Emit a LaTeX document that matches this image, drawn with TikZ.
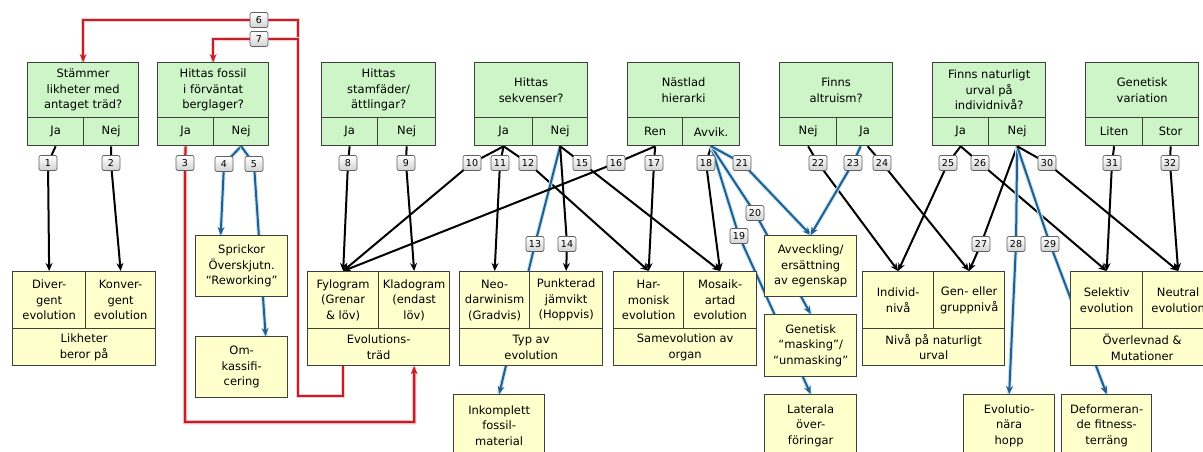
\documentclass[tikz,border=0pt]{standalone}
\usepackage{fontspec}
\setmainfont{DejaVu Sans}
\usetikzlibrary{arrows.meta}
\definecolor{qgreen}{RGB}{206,245,200}
\definecolor{ayellow}{RGB}{255,255,204}
\definecolor{bord}{RGB}{60,66,58}
\definecolor{lred}{RGB}{195,30,42}
\definecolor{hred}{RGB}{248,205,205}
\definecolor{lblue}{RGB}{35,95,140}
\definecolor{hblue}{RGB}{195,228,246}
\newcommand\boxfont{\fontsize{11.5}{15.5}\selectfont}
\newcommand\lblfont{\fontsize{9.5}{11}\selectfont}
\pgfdeclarelayer{bg}
\pgfdeclarelayer{paper}
\pgfsetlayers{paper,bg,main}
\tikzset{
  cell/.style={draw=bord, line width=1.3pt, anchor=north west, inner sep=0pt, align=center, font=\boxfont},
  gcell/.style={cell, fill=qgreen},
  ycell/.style={cell, fill=ayellow},
  lbl/.style={draw=gray!75!black, line width=0.7pt, rounded corners=2pt, top color=white, bottom color=gray!35, inner sep=1pt, minimum width=18, minimum height=15, font=\lblfont},
  conn/.style={line width=2pt, draw=black, -{Stealth[length=8pt,width=7pt]}},
  bconn/.style={conn, draw=lblue, preaction={draw=hblue, line width=4pt, -}},
  rconn/.style={conn, draw=lred, line width=2.2pt, preaction={draw=hred, line width=4.5pt, -}},
}
\begin{document}
\begin{tikzpicture}[x=1pt,y=-1pt]
\begin{pgfonlayer}{paper}
\fill[white] (0,0) rectangle (1203,452);
\end{pgfonlayer}
\useasboundingbox (0,0) rectangle (1203,452);

% ---------- top question boxes ----------
\node[gcell, minimum width=111, minimum height=55] (q1) at (27,62) {Stämmer\\likheter med\\antaget träd?};
\node[gcell, minimum width=56, minimum height=28] (q1a) at (27,117) {Ja};
\node[gcell, minimum width=55, minimum height=28] (q1b) at (83,117) {Nej};

\node[gcell, minimum width=111, minimum height=55] (q2) at (157,62) {Hittas fossil\\i förväntat\\berglager?};
\node[gcell, minimum width=56, minimum height=28] (q2a) at (157,117) {Ja};
\node[gcell, minimum width=55, minimum height=28] (q2b) at (213,117) {Nej};

\node[gcell, minimum width=114, minimum height=55] (q3) at (321,62) {Hittas\\stamfäder/\\ättlingar?};
\node[gcell, minimum width=56, minimum height=28] (q3a) at (321,117) {Ja};
\node[gcell, minimum width=58, minimum height=28] (q3b) at (377,117) {Nej};

\node[gcell, minimum width=113, minimum height=55] (q4) at (474,62) {Hittas\\sekvenser?};
\node[gcell, minimum width=58, minimum height=28] (q4a) at (474,117) {Ja};
\node[gcell, minimum width=55, minimum height=28] (q4b) at (532,117) {Nej};

\node[gcell, minimum width=112, minimum height=55] (q5) at (627,62) {Nästlad\\hierarki};
\node[gcell, minimum width=55, minimum height=28] (q5a) at (627,117) {Ren};
\node[gcell, minimum width=57, minimum height=28] (q5b) at (682,117) {Avvik.};

\node[gcell, minimum width=113, minimum height=55] (q6) at (779,62) {Finns\\altruism?};
\node[gcell, minimum width=57, minimum height=28] (q6a) at (779,117) {Nej};
\node[gcell, minimum width=56, minimum height=28] (q6b) at (836,117) {Ja};

\node[gcell, minimum width=113, minimum height=55] (q7) at (932,62) {Finns naturligt\\urval på\\individnivå?};
\node[gcell, minimum width=56, minimum height=28] (q7a) at (932,117) {Ja};
\node[gcell, minimum width=57, minimum height=28] (q7b) at (988,117) {Nej};

\node[gcell, minimum width=113, minimum height=55] (q8) at (1085,62) {Genetisk\\variation};
\node[gcell, minimum width=57, minimum height=28] (q8a) at (1085,117) {Liten};
\node[gcell, minimum width=56, minimum height=28] (q8b) at (1142,117) {Stor};

% ---------- bottom three-part boxes ----------
\node[ycell, minimum width=73, minimum height=57] (A1) at (12,271) {Diver-\\gent\\evolution};
\node[ycell, minimum width=70, minimum height=57] (A2) at (85,271) {Konver-\\gent\\evolution};
\node[ycell, minimum width=143, minimum height=37] (Ac) at (12,328) {Likheter\\beror på};

\node[ycell, minimum width=71, minimum height=57] (D1) at (307,271) {Fylogram\\(Grenar\\\& löv)};
\node[ycell, minimum width=71, minimum height=57] (D2) at (378,271) {Kladogram\\(endast\\löv)};
\node[ycell, minimum width=142, minimum height=37] (Dc) at (307,328) {Evolutions-\\träd};

\node[ycell, minimum width=70, minimum height=57] (E1) at (459,271) {Neo-\\darwinism\\(Gradvis)};
\node[ycell, minimum width=73, minimum height=57] (E2) at (529,271) {Punkterad\\jämvikt\\(Hoppvis)};
\node[ycell, minimum width=143, minimum height=37] (Ec) at (459,328) {Typ av\\evolution};

\node[ycell, minimum width=70, minimum height=57] (G1) at (613,271) {Har-\\monisk\\evolution};
\node[ycell, minimum width=73, minimum height=57] (G2) at (683,271) {Mosaik-\\artad\\evolution};
\node[ycell, minimum width=143, minimum height=37] (Gc) at (613,328) {Samevolution av\\organ};

\node[ycell, minimum width=71, minimum height=57] (K1) at (862,271) {Individ-\\nivå};
\node[ycell, minimum width=71, minimum height=57] (K2) at (933,271) {Gen- eller\\gruppnivå};
\node[ycell, minimum width=142, minimum height=37] (Kc) at (862,328) {Nivå på naturligt\\urval};

\node[ycell, minimum width=72, minimum height=57] (L1) at (1070,271) {Selektiv\\evolution};
\node[ycell, minimum width=71, minimum height=57] (L2) at (1142,271) {Neutral\\evolution};
\node[ycell, minimum width=143, minimum height=37] (Lc) at (1070,328) {Överlevnad \&\\Mutationer};

% ---------- single boxes ----------
\node[ycell, minimum width=92, minimum height=61] (B) at (195,235) {Sprickor\\Överskjutn.\\“Reworking”};
\node[ycell, minimum width=92, minimum height=61] (C) at (195,336) {Om-\\kassifi-\\cering};
\node[ycell, minimum width=91, minimum height=62] (F) at (453,394) {Inkomplett\\fossil-\\material};
\node[ycell, minimum width=92, minimum height=61] (H) at (764,235) {Avveckling/\\ersättning\\av egenskap};
\node[ycell, minimum width=92, minimum height=62] (I) at (764,314) {Genetisk\\“masking”/\\“unmasking”};
\node[ycell, minimum width=92, minimum height=62] (J) at (764,394) {Laterala\\över-\\föringar};
\node[ycell, minimum width=91, minimum height=62] (M) at (963,394) {Evolutio-\\nära\\hopp};
\node[ycell, minimum width=90, minimum height=62] (N) at (1061,394) {Deformeran-\\de fitness-\\terräng};

% ---------- connector labels ----------
\node[lbl] (l1) at (48,163) {1};
\node[lbl] (l2) at (111,163) {2};
\node[lbl] (l3) at (185,163) {3};
\node[lbl] (l4) at (224,164) {4};
\node[lbl] (l5) at (254,164) {5};
\node[lbl] (l6) at (259,20) {6};
\node[lbl] (l7) at (259,39) {7};
\node[lbl] (l8) at (348,163) {8};
\node[lbl] (l9) at (406,163) {9};
\node[lbl] (l10) at (472,163) {10};
\node[lbl] (l11) at (500,163) {11};
\node[lbl] (l12) at (528,163) {12};
\node[lbl] (l13) at (535,244) {13};
\node[lbl] (l14) at (567,244) {14};
\node[lbl] (l15) at (582,163) {15};
\node[lbl] (l16) at (616,163) {16};
\node[lbl] (l17) at (654,163) {17};
\node[lbl] (l18) at (706,163) {18};
\node[lbl] (l19) at (739,236) {19};
\node[lbl] (l20) at (755,213) {20};
\node[lbl] (l21) at (742,163) {21};
\node[lbl] (l22) at (818,163) {22};
\node[lbl] (l23) at (853,163) {23};
\node[lbl] (l24) at (882,163) {24};
\node[lbl] (l25) at (948,163) {25};
\node[lbl] (l26) at (980,163) {26};
\node[lbl] (l27) at (981,244) {27};
\node[lbl] (l28) at (1016,244) {28};
\node[lbl] (l29) at (1050,244) {29};
\node[lbl] (l30) at (1047,163) {30};
\node[lbl] (l31) at (1112,163) {31};
\node[lbl] (l32) at (1170,163) {32};

\coordinate (r3) at (185,422);
\coordinate (r6b) at (298,396);
\coordinate (r6c) at (298,20);
\coordinate (r7c) at (298,39);

% ---------- connectors ----------
\begin{pgfonlayer}{bg}
\draw[conn] (q1a.south) -- (l1.center) -- (A1.north);
\draw[conn] (q1b.south) -- (l2.center) -- (A2.north);
\draw[rconn] (q2a.south) -- (l3.center) -- (r3) -- (r3 -| D2.south) -- (Dc.south -| D2.south);
\draw[bconn] (q2b.south) -- (l4.center) -- ([xshift=-21pt]B.north);
\draw[bconn] (q2b.south) -- (l5.center) -- ([xshift=24pt]C.north);
\draw[rconn] (Dc.south -| D1.south) -- (D1.south |- r6b) -- (r6b) -- (r6c) -- (l6.center) -- (r6c -| q1.north) -- (q1.north);
\draw[rconn] (Dc.south -| D1.south) -- (D1.south |- r6b) -- (r6b) -- (r7c) -- (l7.center) -- (r7c -| q2.north) -- (q2.north);
\draw[conn] (q3a.south) -- (l8.center) -- (D1.north);
\draw[conn] (q3b.south) -- (l9.center) -- (D2.north);
\draw[conn] (q4a.south) -- (l10.center) -- (D1.north);
\draw[conn] (q4a.south) -- (l11.center) -- (E1.north);
\draw[conn] (q4a.south) -- (l12.center) -- (G1.north);
\draw[bconn] (q4b.south) -- (l13.center) -- (F.north);
\draw[conn] (q4b.south) -- (l14.center) -- (E2.north);
\draw[conn] (q4b.south) -- (l15.center) -- (G2.north);
\draw[conn] (q5a.south) -- (l16.center) -- (D1.north);
\draw[conn] (q5a.south) -- (l17.center) -- (G1.north);
\draw[conn] (q5b.south) -- (l18.center) -- (G2.north);
\draw[bconn] (q5b.south) -- (l19.center) -- (J.north);
\draw[bconn] (q5b.south) -- (l20.center) -- (I.north);
\draw[bconn] (q5b.south) -- (l21.center) -- (H.north);
\draw[conn] (q6a.south) -- (l22.center) -- (K1.north);
\draw[bconn] ([xshift=-4pt]q6b.south) -- (l23.center) -- (H.north);
\draw[conn] ([xshift=3pt]q6b.south) -- (l24.center) -- (K2.north);
\draw[conn] (q7a.south) -- (l25.center) -- (K1.north);
\draw[conn] (q7a.south) -- (l26.center) -- (L1.north);
\draw[conn] (q7b.south) -- (l27.center) -- (K2.north);
\draw[bconn] (q7b.south) -- (l28.center) -- (M.north);
\draw[bconn] (q7b.south) -- (l29.center) -- (N.north);
\draw[conn] (q7b.south) -- (l30.center) -- (L2.north);
\draw[conn] (q8a.south) -- (l31.center) -- (L1.north);
\draw[conn] (q8b.south) -- (l32.center) -- (L2.north);
\end{pgfonlayer}
\end{tikzpicture}
\end{document}
